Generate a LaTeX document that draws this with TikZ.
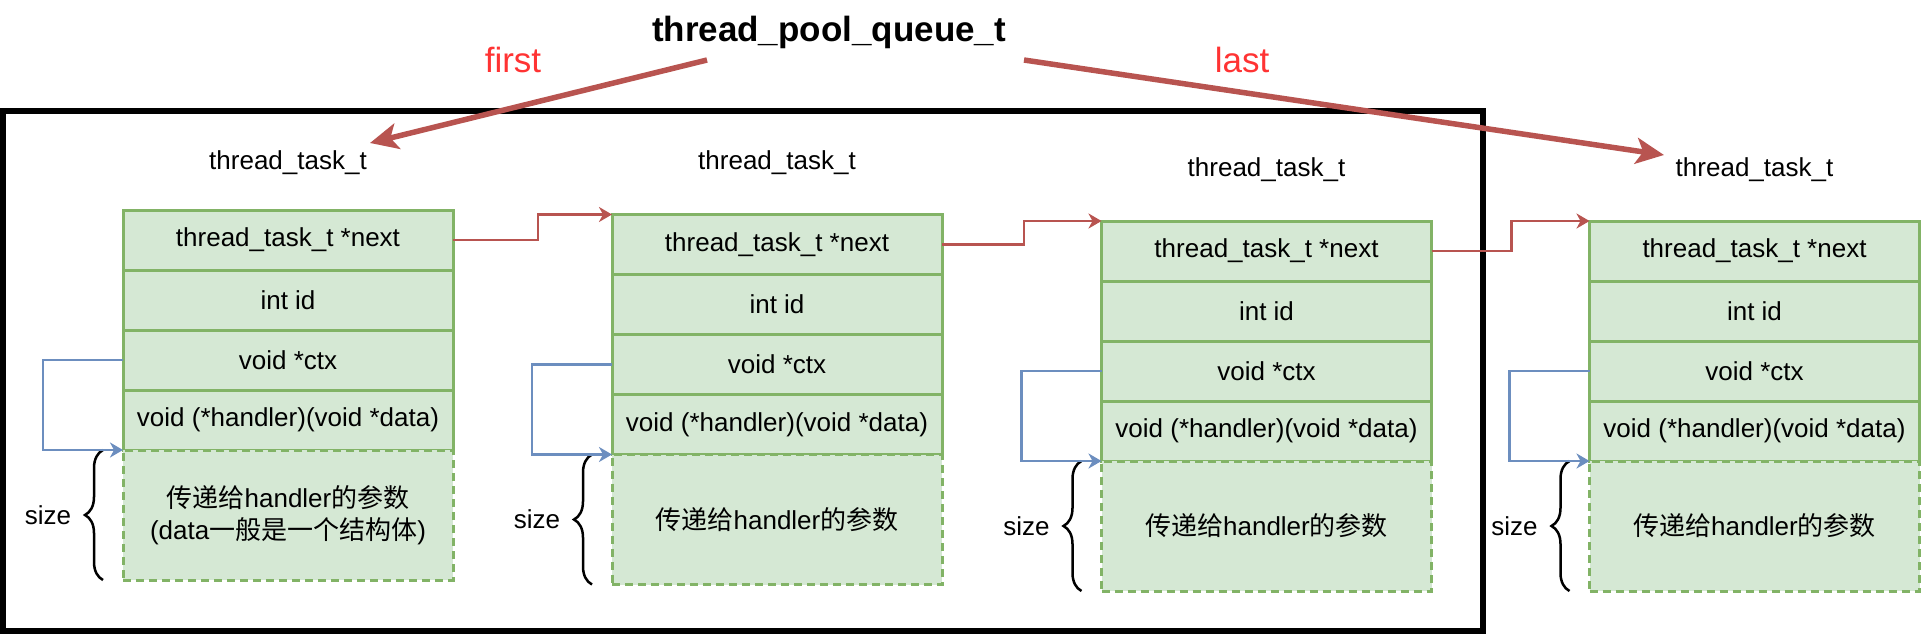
\documentclass[tikz,border=0pt]{standalone}
\usepackage{fontspec}
\setmainfont{Liberation Sans}
\newfontfamily\cjk{Noto Sans CJK SC}
\usetikzlibrary{arrows.meta,decorations.pathreplacing}
\definecolor{gfill}{HTML}{D5E8D4}
\definecolor{gstroke}{HTML}{82B366}
\definecolor{redarr}{HTML}{B85450}
\definecolor{bluearr}{HTML}{6C8EBF}
\definecolor{redlbl}{HTML}{FF3333}
\newcommand\myfs{\fontsize{26pt}{32pt}\selectfont}
\newcommand\bigfs{\fontsize{35pt}{42pt}\selectfont}
\begin{document}
\begin{tikzpicture}[x=1pt,y=-1pt,
  row/.style={draw=gstroke, fill=gfill, line width=3pt, minimum width=330pt,
    minimum height=60pt, anchor=north west, inner sep=0pt, outer sep=0pt, font=\myfs},
  datarow/.style={row, minimum height=130pt, dash pattern=on 8pt off 5pt, align=center},
  lbl/.style={font=\myfs, inner sep=0pt},
  ptr/.style={draw=redarr, line width=5.5pt, -{Stealth[length=28pt, width=26pt, inset=7pt]}},
  nextarr/.style={draw=redarr, line width=2.5pt, -{Stealth[length=13pt, width=15pt, inset=4pt]}},
  selfarr/.style={draw=bluearr, line width=2.5pt, -{Stealth[length=13pt, width=15pt, inset=4pt]}},
  sizebrace/.style={draw=black, line width=2.5pt, decorate, decoration={brace, amplitude=18pt}},
]
\useasboundingbox (0,0) rectangle (1925,635);

% outer frame
\node[draw=black, line width=6pt, minimum width=1480pt, minimum height=520pt,
  anchor=north west, inner sep=0pt, outer sep=0pt] (frame) at (3,111) {};

% title and labels
\node[font=\bfseries\bigfs, inner sep=0pt] (title) at (829,32) {thread\_pool\_queue\_t};
\node[font=\bigfs, text=redlbl, inner sep=0pt] (first) at (513,60) {first};
\node[font=\bigfs, text=redlbl, inner sep=0pt] (last) at (1242,60) {last};

% boxes
\foreach \i/\x/\y in {1/123/210, 2/612/214.5, 3/1101.5/221, 4/1589.5/221} {
  \node[row] (b\i n) at (\x,\y) {thread\_task\_t *next};
  \node[row] (b\i i) at (b\i n.south west) {int id};
  \node[row] (b\i c) at (b\i i.south west) {void *ctx};
  \node[row] (b\i h) at (b\i c.south west) {void (*handler)(void *data)};
}
\node[datarow] (b1d) at (b1h.south west) {{\cjk 传递给}handler{\cjk 的参数}\\({\cjk }data{\cjk 一般是一个结构体})};
\node[datarow] (b2d) at (b2h.south west) {{\cjk 传递给}handler{\cjk 的参数}};
\node[datarow] (b3d) at (b3h.south west) {{\cjk 传递给}handler{\cjk 的参数}};
\node[datarow] (b4d) at (b4h.south west) {{\cjk 传递给}handler{\cjk 的参数}};

% type labels
\node[lbl] (t1) at ([yshift=47pt]b1n.north) {thread\_task\_t};
\node[lbl] (t2) at ([yshift=51.5pt]b2n.north) {thread\_task\_t};
\node[lbl] (t3) at ([yshift=51pt]b3n.north) {thread\_task\_t};
\node[lbl] (t4) at ([yshift=51pt]b4n.north) {thread\_task\_t};

% size braces and labels
\foreach \i in {1,2,3,4} {
  \draw[sizebrace] ([xshift=-20pt]b\i d.south west) -- ([xshift=-20pt]b\i d.north west);
  \node[lbl] (s\i) at ([xshift=-75pt]b\i d.west) {size};
}

% first / last pointers
\coordinate (fs) at (707,60);
\coordinate (fe) at (370,143);
\coordinate (ls) at (1024,60);
\coordinate (le) at (1664,155);
\draw[ptr] (fs) -- (fe);
\draw[ptr] (ls) -- (le);

% next pointers
\draw[nextarr] (b1n.east) -- ++(85,0) |- (b2n.north west);
\draw[nextarr] (b2n.east) -- ++(82,0) |- (b3n.north west);
\draw[nextarr] (b3n.east) -- ++(80,0) |- (b4n.north west);

% ctx self pointers
\foreach \i in {1,2,3,4} {
  \draw[selfarr] (b\i c.west) -- ++(-80,0) |- (b\i d.north west);
}
\end{tikzpicture}
\end{document}
